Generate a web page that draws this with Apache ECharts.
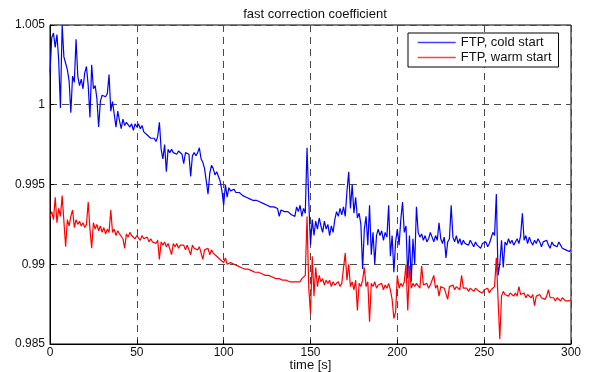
<!DOCTYPE html>
<html>
<head>
<meta charset="utf-8">
<script src="https://cdn.jsdelivr.net/npm/echarts@6/dist/echarts.min.js"></script>
<style>html,body{margin:0;padding:0;background:#fff;}#c{width:589px;height:372px;}</style>
</head>
<body>
<div id="c"></div>
<script>
var titleText = 'fast correction coefficient';
var xLabel = 'time [s]';
var seriesNames = ['FTP, cold start', 'FTP, warm start'];
var seriesColors = ['#0000ff', '#ff0000'];
var xTicks = [0, 50, 100, 150, 200, 250, 300];
var yTicks = [0.985, 0.99, 0.995, 1, 1.005];

var coldStart = [
1.0020,1.0042,1.0045,1.0036,1.0044,1.0028,0.9998,1.0050,1.0030,1.0026,
1.0022,1.0015,0.9995,1.0018,1.0014,1.0041,1.0018,1.0012,1.0016,1.0010,
1.0020,1.0024,1.0012,0.9992,1.0025,1.0010,1.0012,1.0004,0.9986,1.0002,
1.0006,1.0006,1.0005,1.0007,1.0019,0.9996,1.0002,0.9994,0.9986,0.9996,
0.9990,0.9985,0.9991,0.9987,0.9989,0.9990,0.9986,0.9988,0.9984,0.9988,
0.9986,0.9988,0.9985,0.9987,0.9983,0.9984,0.9981,0.9982,0.9979,0.9978,
0.9979,0.9977,0.9980,0.9989,0.9972,0.9966,0.9975,0.9958,0.9972,0.9970,
0.9972,0.9970,0.9971,0.9969,0.9971,0.9970,0.9969,0.9963,0.9970,0.9971,
0.9969,0.9955,0.9968,0.9970,0.9968,0.9970,0.9973,0.9966,0.9964,0.9960,
0.9952,0.9944,0.9957,0.9962,0.9960,0.9956,0.9958,0.9955,0.9952,0.9946,
0.9937,0.9950,0.9942,0.9948,0.9946,0.9945,0.9947,0.9945,0.9944,0.9945,
0.9944,0.9943,0.9943,0.9942,0.9942,0.9941,0.9941,0.9940,0.9940,0.9940,
0.9939,0.9939,0.9938,0.9938,0.9938,0.9937,0.9937,0.9936,0.9936,0.9936,
0.9935,0.9935,0.9930,0.9934,0.9933,0.9933,0.9932,0.9933,0.9932,0.9931,
0.9931,0.9930,0.9936,0.9933,0.9937,0.9930,0.9935,0.9932,0.9973,0.9940,
0.9912,0.9928,0.9918,0.9927,0.9922,0.9929,0.9924,0.9920,0.9927,0.9922,
0.9925,0.9918,0.9924,0.9920,0.9928,0.9933,0.9930,0.9935,0.9931,0.9936,
0.9930,0.9946,0.9958,0.9935,0.9950,0.9932,0.9942,0.9929,0.9932,0.9925,
0.9897,0.9922,0.9930,0.9912,0.9937,0.9906,0.9920,0.9900,0.9918,0.9922,
0.9918,0.9921,0.9915,0.9920,0.9917,0.9937,0.9905,0.9918,0.9895,0.9914,
0.9922,0.9912,0.9928,0.9939,0.9920,0.9924,0.9891,0.9918,0.9889,0.9916,
0.9900,0.9936,0.9920,0.9917,0.9919,0.9915,0.9918,0.9914,0.9916,0.9920,
0.9917,0.9914,0.9918,0.9915,0.9926,0.9916,0.9913,0.9917,0.9904,0.9914,
0.9916,0.9937,0.9917,0.9914,0.9918,0.9913,0.9916,0.9912,0.9915,0.9913,
0.9914,0.9912,0.9915,0.9913,0.9911,0.9914,0.9912,0.9913,0.9910,0.9913,
0.9912,0.9914,0.9911,0.9913,0.9912,0.9920,0.9918,0.9944,0.9893,0.9900,
0.9915,0.9898,0.9914,0.9912,0.9916,0.9913,0.9915,0.9912,0.9914,0.9916,
0.9913,0.9918,0.9932,0.9915,0.9918,0.9913,0.9917,0.9914,0.9912,0.9915,
0.9913,0.9916,0.9914,0.9911,0.9914,0.9913,0.9915,0.9912,0.9910,0.9914,
0.9912,0.9913,0.9911,0.9914,0.9912,0.9910,0.9911,0.9909,0.9910,0.9908,
0.9909
];

var warmStart = [
0.9930,0.9933,0.9928,0.9942,0.9926,0.9935,0.9930,0.9943,0.9927,0.9911,
0.9928,0.9924,0.9930,0.9934,0.9923,0.9928,0.9925,0.9927,0.9924,0.9926,
0.9923,0.9925,0.9939,0.9922,0.9910,0.9926,0.9922,0.9925,0.9921,0.9924,
0.9920,0.9923,0.9919,0.9922,0.9920,0.9934,0.9920,0.9922,0.9918,0.9921,
0.9919,0.9920,0.9916,0.9910,0.9919,0.9917,0.9920,0.9918,0.9919,0.9916,
0.9918,0.9917,0.9915,0.9918,0.9916,0.9915,0.9917,0.9914,0.9916,0.9914,
0.9915,0.9913,0.9915,0.9903,0.9914,0.9912,0.9914,0.9911,0.9913,0.9912,
0.9906,0.9913,0.9911,0.9913,0.9910,0.9912,0.9911,0.9912,0.9909,0.9912,
0.9911,0.9906,0.9912,0.9910,0.9911,0.9909,0.9911,0.9910,0.9903,0.9909,
0.9908,0.9910,0.9906,0.9909,0.9907,0.9908,0.9905,0.9906,0.9903,0.9904,
0.9901,0.9904,0.9900,0.9899,0.9901,0.9900,0.9900,0.9899,0.9899,0.9898,
0.9898,0.9898,0.9897,0.9897,0.9897,0.9896,0.9896,0.9896,0.9895,0.9895,
0.9895,0.9894,0.9894,0.9894,0.9893,0.9893,0.9893,0.9892,0.9892,0.9892,
0.9891,0.9891,0.9891,0.9891,0.9890,0.9890,0.9890,0.9890,0.9889,0.9889,
0.9889,0.9888,0.9889,0.9888,0.9889,0.9891,0.9890,0.9893,0.9930,0.9885,
0.9869,0.9905,0.9880,0.9898,0.9886,0.9893,0.9889,0.9891,0.9887,0.9890,
0.9888,0.9890,0.9886,0.9889,0.9887,0.9886,0.9889,0.9886,0.9888,0.9887,
0.9907,0.9890,0.9900,0.9886,0.9889,0.9884,0.9890,0.9871,0.9888,0.9886,
0.9890,0.9898,0.9886,0.9889,0.9864,0.9888,0.9886,0.9889,0.9885,0.9887,
0.9886,0.9888,0.9884,0.9887,0.9885,0.9888,0.9884,0.9878,0.9866,0.9870,
0.9893,0.9885,0.9888,0.9886,0.9889,0.9900,0.9871,0.9899,0.9885,0.9888,
0.9886,0.9888,0.9887,0.9885,0.9899,0.9887,0.9886,0.9888,0.9885,0.9887,
0.9886,0.9893,0.9885,0.9887,0.9880,0.9886,0.9887,0.9885,0.9886,0.9878,
0.9886,0.9885,0.9887,0.9884,0.9886,0.9885,0.9884,0.9893,0.9885,0.9884,
0.9885,0.9883,0.9885,0.9884,0.9883,0.9885,0.9884,0.9883,0.9884,0.9882,
0.9884,0.9883,0.9885,0.9882,0.9884,0.9883,0.9886,0.9904,0.9878,0.9853,
0.9880,0.9883,0.9881,0.9882,0.9880,0.9882,0.9881,0.9880,0.9882,0.9880,
0.9886,0.9881,0.9880,0.9882,0.9879,0.9881,0.9880,0.9879,0.9881,0.9874,
0.9880,0.9879,0.9881,0.9879,0.9880,0.9878,0.9880,0.9884,0.9879,0.9878,
0.9879,0.9877,0.9879,0.9878,0.9877,0.9879,0.9878,0.9877,0.9878,0.9877,
0.9878
];

function pairs(arr) { return arr.map(function (v, i) { return [i, v]; }); }

var font = 'Liberation Sans, Arial, Helvetica, sans-serif';
var gridLine = { show: true, lineStyle: { color: '#4a4a4a', type: [7, 5], width: 1 } };

var chart = echarts.init(document.getElementById('c'), null, { renderer: 'canvas' });
chart.setOption({
  animation: false,
  backgroundColor: '#fff',
  title: {
    text: titleText, left: 310, top: 3, textAlign: 'center',
    textStyle: { fontFamily: font, fontSize: 13, fontWeight: 'normal', color: '#111' }
  },
  legend: {
    orient: 'vertical', left: 408, top: 33,
    padding: [3, 7, 3, 9], itemGap: 2, itemWidth: 38, itemHeight: 13,
    backgroundColor: '#fff', borderColor: '#000', borderWidth: 1, borderRadius: 0,
    itemStyle: { opacity: 0, borderWidth: 0 },
    textStyle: { fontFamily: font, fontSize: 13, color: '#111' },
    data: seriesNames.map(function (n, i) {
      return { name: n, lineStyle: { color: seriesColors[i], width: 1.5, opacity: 0.75 } };
    })
  },
  grid: { left: 50, right: 18, top: 25, bottom: 28, show: true, borderColor: '#000', borderWidth: 1,
    outerBoundsMode: 'none', containLabel: false },
  xAxis: {
    type: 'value', min: xTicks[0], max: xTicks[xTicks.length - 1], interval: 50,
    name: xLabel, nameLocation: 'middle', nameGap: 15, nameMoveOverlap: false,
    nameTextStyle: { fontFamily: font, fontSize: 13, color: '#111' },
    axisLine: { show: true, lineStyle: { color: '#000', width: 1 } },
    axisTick: { show: true, inside: true, length: 4, lineStyle: { color: '#000' } },
    axisLabel: { fontFamily: font, fontSize: 12, color: '#111', margin: 3 },
    splitLine: gridLine
  },
  yAxis: {
    type: 'value', min: yTicks[0], max: yTicks[yTicks.length - 1], interval: 0.005,
    axisLine: { show: true, lineStyle: { color: '#000', width: 1 } },
    axisTick: { show: true, inside: true, length: 4, lineStyle: { color: '#000' } },
    axisLabel: { fontFamily: font, fontSize: 12, color: '#111', margin: 5,
      formatter: function (v) { return String(+v.toFixed(3)); } },
    splitLine: gridLine
  },
  series: [
    { name: seriesNames[0], type: 'line', data: pairs(coldStart), symbol: 'none',
      lineStyle: { color: seriesColors[0], width: 1.2 }, itemStyle: { color: seriesColors[0] } },
    { name: seriesNames[1], type: 'line', data: pairs(warmStart), symbol: 'none',
      lineStyle: { color: seriesColors[1], width: 1.2 }, itemStyle: { color: seriesColors[1] } }
  ]
});
</script>
</body>
</html>
